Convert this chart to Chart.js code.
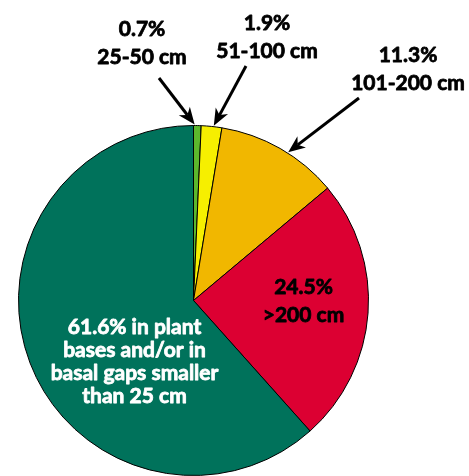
<!DOCTYPE html>
<html>
<head>
<meta charset="utf-8">
<script src="https://cdn.jsdelivr.net/npm/chart.js@4.4.1/dist/chart.umd.min.js"></script>
<style>
  html, body { margin: 0; padding: 0; background: #fff; }
  #wrap { width: 469px; height: 476px; }
</style>
</head>
<body>
<div id="wrap"><canvas id="js--pie" width="469" height="476"></canvas></div>
<script>
// shares of the total, clockwise from 12 o'clock
const categories = ['25-50 cm', '51-100 cm', '101-200 cm', '>200 cm', 'in plant bases and/or in basal gaps smaller than 25 cm'];
const shares = [0.7, 1.9, 11.3, 24.5, 61.6];
const sliceColors = ['#5cb82c', '#f6ef00', '#f1b700', '#dc0032', '#00725b'];

// label text per slice
const outsideLabels = [
    ['0.7%', '25-50 cm'],
    ['1.9%', '51-100 cm'],
    ['11.3%', '101-200 cm']
];
const insideLabels = {
    3: ['24.5%', '>200 cm'],
    4: ['61.6% in plant', 'bases and/or in', 'basal gaps smaller', 'than 25 cm']
};

const FONT = 'bold 21px Lato, "Open Sans", sans-serif';

// where the callouts sit (text centre x, first baseline y, arrow tail, where the tip lands inside the slice)
const callouts = [
    { x: 142, y: 36, tail: [159, 78], frac: 0.15 },
    { x: 267, y: 30, tail: [246, 66], frac: 0.6 },
    { x: 408, y: 62, tail: [359, 98], frac: 0.57 }
];

// bold text with a thin outline of the same colour so it reads heavier
function heavyText(ctx, text, x, y, color) {
    ctx.fillStyle = color;
    ctx.strokeStyle = color;
    ctx.lineWidth = 0.8;
    ctx.lineJoin = 'round';
    ctx.fillText(text, x, y);
    ctx.strokeText(text, x, y);
}

function drawArrow(ctx, x1, y1, x2, y2) {
    const ang = Math.atan2(y2 - y1, x2 - x1);
    const headLen = 17, headW = 7, notch = 12;
    ctx.save();
    ctx.strokeStyle = '#000';
    ctx.fillStyle = '#000';
    ctx.lineWidth = 3;
    ctx.beginPath();
    ctx.moveTo(x1, y1);
    ctx.lineTo(x2 - Math.cos(ang) * notch, y2 - Math.sin(ang) * notch);
    ctx.stroke();
    ctx.translate(x2, y2);
    ctx.rotate(ang);
    ctx.beginPath();
    ctx.moveTo(0, 0);
    ctx.lineTo(-headLen, -headW);
    ctx.lineTo(-notch, 0);
    ctx.lineTo(-headLen, headW);
    ctx.closePath();
    ctx.fill();
    ctx.restore();
}

const labelPlugin = {
    id: 'labelPlugin',
    afterDraw(chart) {
        const ctx = chart.ctx;
        const arcs = chart.getDatasetMeta(0).data;
        ctx.save();
        ctx.font = FONT;
        ctx.textAlign = 'center';
        ctx.textBaseline = 'alphabetic';

        callouts.forEach((c, i) => {
            outsideLabels[i].forEach((line, j) => heavyText(ctx, line, c.x, c.y + j * 28, '#000'));
            const a = arcs[i];
            const t = a.startAngle + (a.endAngle - a.startAngle) * c.frac;
            const tipX = a.x + Math.cos(t) * (a.outerRadius + 1);
            const tipY = a.y + Math.sin(t) * (a.outerRadius + 1);
            drawArrow(ctx, c.tail[0], c.tail[1], tipX, tipY);
        });

        // >200 cm
        const red = arcs[3];
        insideLabels[3].forEach((line, j) => heavyText(ctx, line, red.x + 110, red.y - 7 + j * 28, '#000'));

        // the big one
        const teal = arcs[4];
        insideLabels[4].forEach((line, j) => heavyText(ctx, line, teal.x - 59, teal.y + 33 + j * 23.3, '#fff'));
        ctx.restore();
    }
};

new Chart(document.getElementById('js--pie'), {
    type: 'pie',
    data: {
        labels: categories,
        datasets: [{
            data: shares,
            backgroundColor: sliceColors,
            borderColor: '#000',
            borderWidth: 1,
            hoverOffset: 0
        }]
    },
    options: {
        responsive: false,
        animation: false,
        layout: { padding: { left: 18, right: 100, top: 125, bottom: 0 } },
        plugins: {
            legend: { display: false },
            tooltip: { enabled: false }
        }
    },
    plugins: [labelPlugin]
});
</script>
</body>
</html>
